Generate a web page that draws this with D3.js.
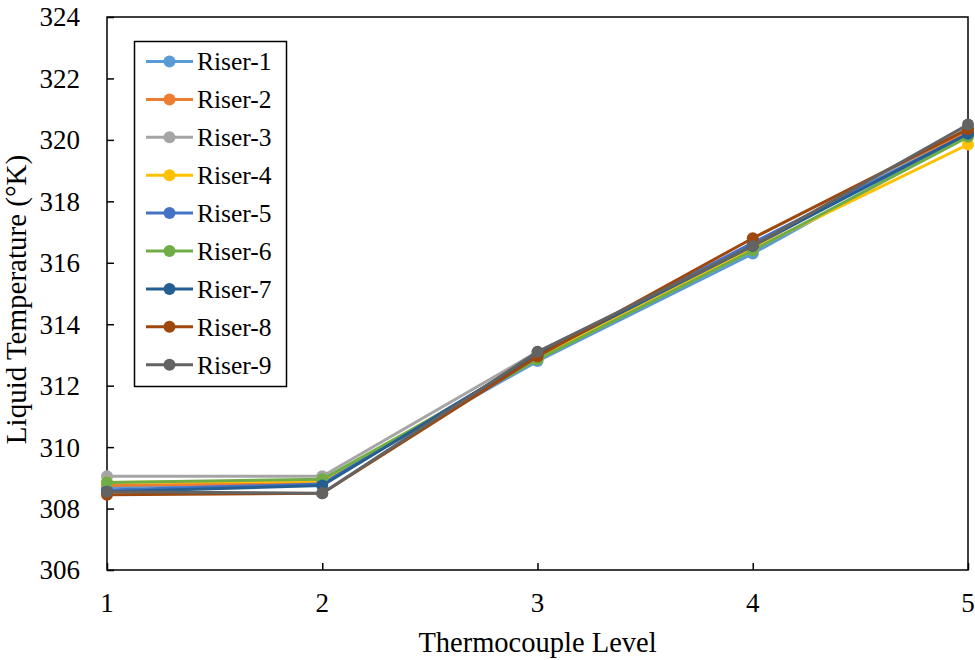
<!DOCTYPE html>
<html>
<head>
<meta charset="utf-8">
<script src="https://cdn.jsdelivr.net/npm/d3@7"></script>
<style>
  body { margin: 0; background: #fff; }
</style>
</head>
<body>
<script>
// thermocouple levels on the x axis
const levels = [1, 2, 3, 4, 5]
const seriesNames = ["Riser-1", "Riser-2", "Riser-3", "Riser-4", "Riser-5", "Riser-6", "Riser-7", "Riser-8", "Riser-9"]
const seriesColors = ["#5B9BD5", "#ED7D31", "#A5A5A5", "#FFC000", "#4472C4", "#70AD47", "#255E91", "#9E480E", "#636363"]

// liquid temperature (K) per riser, level 1..5
const riser1 = [308.70, 308.85, 312.80, 316.30, 320.20]
const riser2 = [308.75, 308.85, 312.95, 316.60, 320.30]
const riser3 = [309.05, 309.05, 313.10, 316.50, 320.40]
const riser4 = [308.85, 308.90, 312.90, 316.45, 319.85]
const riser5 = [308.60, 308.80, 313.00, 316.65, 320.20]
const riser6 = [308.85, 308.95, 312.85, 316.40, 320.10]
const riser7 = [308.55, 308.75, 313.00, 316.55, 320.20]
const riser8 = [308.45, 308.50, 312.95, 316.80, 320.35]
const riser9 = [308.55, 308.50, 313.10, 316.55, 320.50]
const allSeries = [riser1, riser2, riser3, riser4, riser5, riser6, riser7, riser8, riser9]

const yTicks = [306, 308, 310, 312, 314, 316, 318, 320, 322, 324]

const serif = "'Liberation Serif', 'Times New Roman', serif"

let width = 975, height = 660
let margin = { top: 17, right: 7, bottom: 90, left: 107 }

let svg = d3.select("body").append("svg")
    .attr("width", width)
    .attr("height", height)

let x = d3.scaleLinear().domain([1, 5]).range([margin.left, width - margin.right])
let y = d3.scaleLinear().domain([306, 324]).range([height - margin.bottom, margin.top])

// frame
svg.append("rect")
    .attr("x", x(1)).attr("y", y(324))
    .attr("width", x(5) - x(1)).attr("height", y(306) - y(324))
    .attr("fill", "none").attr("stroke", "#000").attr("stroke-width", 1.5)

// axes with inward ticks
let yAxis = svg.append("g")
    .attr("transform", "translate(" + x(1) + ",0)")
    .call(d3.axisRight(y).tickValues(yTicks).tickSize(7).tickFormat(""))
yAxis.select(".domain").remove()
yAxis.selectAll("line").attr("stroke", "#000").attr("stroke-width", 1.5)

svg.selectAll(".ylab")
    .data(yTicks)
    .enter()
    .append("text")
    .attr("class", "ylab")
    .attr("x", 80).attr("y", d => y(d))
    .attr("dy", "0.35em")
    .attr("text-anchor", "end")
    .attr("font-family", serif)
    .attr("font-size", 27)
    .text(d => d)

let xAxis = svg.append("g")
    .attr("transform", "translate(0," + y(306) + ")")
    .call(d3.axisTop(x).tickValues(levels).tickSize(7).tickFormat(""))
xAxis.select(".domain").remove()
xAxis.selectAll("line").attr("stroke", "#000").attr("stroke-width", 1.5)

svg.selectAll(".xlab")
    .data(levels)
    .enter()
    .append("text")
    .attr("class", "xlab")
    .attr("x", d => x(d)).attr("y", 612)
    .attr("text-anchor", "middle")
    .attr("font-family", serif)
    .attr("font-size", 27)
    .text(d => d)

svg.append("text")
    .attr("x", x(3)).attr("y", 652)
    .attr("text-anchor", "middle")
    .attr("font-family", serif)
    .attr("font-size", 28.5)
    .text("Thermocouple Level")

svg.append("text")
    .attr("transform", "translate(26," + ((y(306) + y(324)) / 2 + 6) + ") rotate(-90)")
    .attr("text-anchor", "middle")
    .attr("font-family", serif)
    .attr("font-size", 29)
    .text("Liquid Temperature (°K)")

// series
let line = d3.line().x((d, i) => x(levels[i])).y(d => y(d))

let groups = svg.selectAll(".series")
    .data(allSeries)
    .enter()
    .append("g")
    .attr("class", "series")

groups.append("path")
    .attr("d", d => line(d))
    .attr("fill", "none")
    .attr("stroke", (d, i) => seriesColors[i])
    .attr("stroke-width", 3)
    .attr("stroke-linejoin", "round")

groups.selectAll("circle")
    .data((d, i) => d.map(v => ({ v: v, c: seriesColors[i] })))
    .enter()
    .append("circle")
    .attr("cx", (d, i) => x(levels[i]))
    .attr("cy", d => y(d.v))
    .attr("r", 6)
    .attr("fill", d => d.c)

// legend
let legend = svg.append("g")
legend.append("rect")
    .attr("x", 134.5).attr("y", 41.5)
    .attr("width", 152).attr("height", 345)
    .attr("fill", "#fff").attr("stroke", "#000").attr("stroke-width", 1.5)

let rows = legend.selectAll(".row")
    .data(seriesNames)
    .enter()
    .append("g")
    .attr("class", "row")
    .attr("transform", (d, i) => "translate(0," + (61.5 + i * 37.9) + ")")

rows.append("line")
    .attr("x1", 146).attr("x2", 193)
    .attr("stroke", (d, i) => seriesColors[i])
    .attr("stroke-width", 3)
rows.append("circle")
    .attr("cx", 169.5).attr("r", 6)
    .attr("fill", (d, i) => seriesColors[i])
rows.append("text")
    .attr("x", 197).attr("dy", "0.35em")
    .attr("font-family", serif)
    .attr("font-size", 25.5)
    .text(d => d)
</script>
</body>
</html>
